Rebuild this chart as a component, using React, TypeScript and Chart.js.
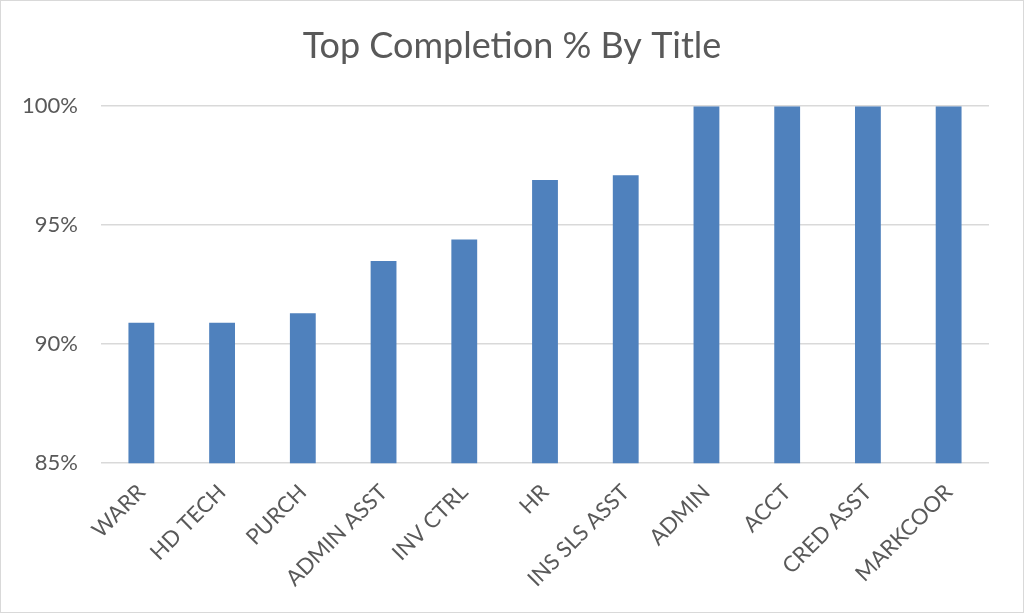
import { useEffect, useRef } from 'react';
import { Chart, registerables } from 'chart.js';

Chart.register(...registerables);

const titles = ['WARR', 'HD TECH', 'PURCH', 'ADMIN ASST', 'INV CTRL', 'HR', 'INS SLS ASST', 'ADMIN', 'ACCT', 'CRED ASST', 'MARKCOOR'];
const completion = [90.9, 90.9, 91.3, 93.5, 94.4, 96.9, 97.1, 100, 100, 100, 100];
const yTicks = [85, 90, 95, 100];

const textColor = '#595959';
const font = 'Lato, "Open Sans", sans-serif';

export default function App() {
  const chartRef = useRef<HTMLCanvasElement>(null);
  const chartInstance = useRef<Chart | null>(null);

  useEffect(() => {
    document.body.style.margin = '0';
    if (!chartRef.current) return;
    if (chartInstance.current) chartInstance.current.destroy();
    const ctx = chartRef.current.getContext('2d');
    if (!ctx) return;

    chartInstance.current = new Chart(ctx, {
      type: 'bar',
      data: {
        labels: titles,
        datasets: [
          {
            label: 'Completion',
            data: completion,
            backgroundColor: '#4F81BD',
            categoryPercentage: 1,
            barPercentage: 0.32,
          },
        ],
      },
      options: {
        responsive: true,
        maintainAspectRatio: false,
        animation: false,
        layout: { padding: { top: 10, left: 16, right: 16, bottom: 12 } },
        plugins: {
          legend: { display: false },
          tooltip: { enabled: false },
          title: {
            display: true,
            text: 'Top Completion % By Title',
            color: textColor,
            font: { family: font, size: 36, weight: 'normal' },
            padding: { top: 14, bottom: 38 },
          },
        },
        scales: {
          y: {
            min: yTicks[0],
            max: yTicks[yTicks.length - 1],
            afterBuildTicks: (axis) => {
              axis.ticks = yTicks.map((v) => ({ value: v }));
            },
            afterFit: (axis) => {
              axis.width = 84;
            },
            grid: { color: '#d9d9d9', lineWidth: 1.5, drawTicks: false },
            border: { display: false },
            ticks: {
              color: textColor,
              font: { family: font, size: 22 },
              padding: 23,
              callback: (v) => `${v}%`,
            },
          },
          x: {
            afterFit: (axis) => {
              axis.paddingLeft = 0;
              axis.paddingRight = 34;
            },
            grid: { display: false },
            border: { display: false },
            ticks: {
              color: textColor,
              font: { family: font, size: 22 },
              maxRotation: 45,
              minRotation: 45,
              padding: 8,
            },
          },
        },
      },
    });

    return () => {
      if (chartInstance.current) {
        chartInstance.current.destroy();
        chartInstance.current = null;
      }
    };
  }, []);

  return (
    <div style={{ width: 1024, height: 613, border: '1px solid #d9d9d9', boxSizing: 'border-box', background: '#fff' }}>
      <canvas ref={chartRef} />
    </div>
  );
}
